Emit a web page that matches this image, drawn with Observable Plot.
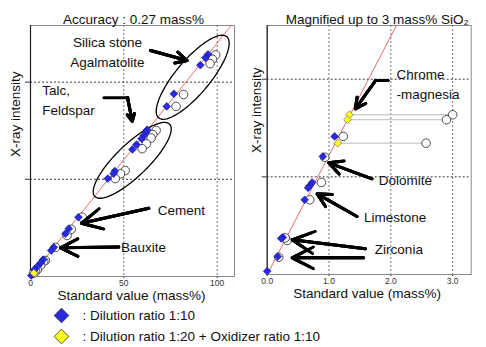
<!DOCTYPE html>
<html><head><meta charset="utf-8">
<script src="https://cdn.jsdelivr.net/npm/d3@7"></script>
<script src="https://cdn.jsdelivr.net/npm/@observablehq/plot@0.6"></script>
<style>
body{margin:0;background:#fff;font-family:"Liberation Sans",Arial,sans-serif;}
#wrap{position:relative;width:486px;height:347px;overflow:hidden;background:#fff;}
#wrap svg{position:absolute;display:block;}
</style></head><body><div id="wrap"></div>
<script>
// ---------- Left panel data (standard value mass%, X-ray intensity) ----------
const leftDiaStd = [95.1, 93.7, 91.0, 76.8, 73.0, 62.5, 61.8, 60.7, 59.5, 56.8, 54.6, 45.2, 44.5, 41.4, 25.7, 20.5, 18.7, 12.5, 11.1, 6.8, 5.4, 3.6, 2.1, 0.4];
const leftDiaInt = [91.4, 90.0, 87.0, 75.2, 70.0, 60.4, 59.4, 58.0, 56.7, 54.3, 52.3, 43.4, 42.3, 40.3, 24.4, 19.7, 17.6, 12.0, 10.7, 6.9, 5.5, 4.1, 2.8, 0.4];
const leftYelStd = [1.8];
const leftYelInt = [1.4];
const leftCirStd = [99.2, 97.5, 96.2, 82.0, 78.0, 67.3, 65.5, 64.6, 62.1, 59.8, 50.7, 48.2, 45.4, 27.7, 21.8, 19.6, 13.4, 8.0, 7.1, 5.4, 3.6, 2.7, 1.8];
const leftCirInt = [91.2, 89.4, 87.6, 74.9, 70.0, 60.1, 58.4, 57.0, 54.6, 52.6, 43.6, 42.3, 40.3, 24.4, 19.4, 16.9, 12.0, 6.6, 6.3, 4.6, 2.8, 2.2, 1.4];
const leftLineStd = [0, 107.5];
const leftLineInt = [0, 103.3];
const leftXTicks = [0, 50, 100];
const leftYGrid = [40, 80];

// ---------- Right panel data ----------
const rightDiaStd = [1.09, 0.90, 0.727, 0.688, 0.662, 0.607, 0.252, 0.226, 0.171, 0.0];
const rightDiaInt = [1.414, 1.209, 0.943, 0.909, 0.888, 0.765, 0.381, 0.369, 0.184, 0.034];
const rightYelStd = [1.33, 1.30, 1.14];
const rightYelInt = [1.636, 1.585, 1.345];
const rightYelCirStd = [3.0, 2.9, 2.57];
const rightCirStd = [1.23, 0.93, 0.877, 0.688, 0.323, 0.29, 0.187];
const rightCirInt = [1.414, 1.20, 0.943, 0.765, 0.348, 0.375, 0.177];
const rightLineStd = [0, 2.09];
const rightLineInt = [0, 2.55];
const rightXTicks = [0, 1, 2, 3];
const rightYGrid = [1, 2];

// ---------- Texts ----------
const leftTitle = "Accuracy : 0.27 mass%";
const rightTitle = "Magnified up to 3 mass% SiO\u2082";
const xLabel = "Standard value (mass%)";
const yLabel = "X-ray intensity";
const legendLabels = [": Dilution ratio 1:10", ": Dilution ratio 1:20 + Oxidizer ratio 1:10"];
const legendColors = ["#2a2ae0", "#ffff20"];

const leftNotes = [
  {text: "Silica stone\nAgalmatolite", x: 41.2, y: 93.1, anchor: "middle", lh: 1.53},
  {text: "Talc,\nFeldspar", x: 6.3, y: 73.1, anchor: "start", lh: 1.48},
  {text: "Cement", x: 80.8, y: 27.2, anchor: "middle", lh: 1},
  {text: "Bauxite", x: 60.6, y: 11.8, anchor: "middle", lh: 1}
];
const leftArrows = [
  {x1: 64.3, y1: 93.0, x2: 83.9, y2: 88.9},
  {x1: 52.0, y1: 73.6, x2: 54.5, y2: 63.9},
  {x1: 63.4, y1: 28.1, x2: 27.3, y2: 21.9},
  {x1: 47.3, y1: 12.1, x2: 16.1, y2: 11.8}
];
const leftBars = [{x1: 39.3, y1: 73.6, x2: 52.2, y2: 73.6}];

const rightNotes = [
  {text: "Chrome\n-magnesia", x: 2.09, y: 1.969, anchor: "start", lh: 1.48},
  {text: "Dolomite", x: 2.234, y: 0.963, anchor: "middle", lh: 1},
  {text: "Limestone", x: 2.07, y: 0.587, anchor: "middle", lh: 1},
  {text: "Zirconia", x: 2.13, y: 0.253, anchor: "middle", lh: 1}
];
const rightArrows = [
  {x1: 1.755, y1: 1.987, x2: 1.426, y2: 1.697},
  {x1: 1.696, y1: 0.98, x2: 0.995, y2: 1.144},
  {x1: 1.454, y1: 0.594, x2: 0.808, y2: 0.826},
  {x1: 1.588, y1: 0.263, x2: 0.404, y2: 0.355},
  {x1: 1.56, y1: 0.171, x2: 0.404, y2: 0.171}
];
const rightBars = [{x1: 1.96, y1: 1.987, x2: 1.75, y2: 1.987}];

// ellipse annotations (centre in data units, semi-axes in px, angle in degrees)
const ellipseSpecs = [
  {id: "a", cx: 86.9, cy: 82.0, a: 53, b: 17, ang: 50},
  {id: "b", cx: 54.5, cy: 47.8, a: 52, b: 16, ang: 44}
];

const FONT = "Liberation Sans, Arial, sans-serif";
const wrap = document.getElementById("wrap");

const pts = (xs, ys) => xs.map((x, i) => ({x, y: ys[i]}));

function arrowMarks(data) {
  return [14, 10, 6].map(h => Plot.arrow(data, {
    x1: "x1", y1: "y1", x2: "x2", y2: "y2",
    stroke: "black", strokeWidth: 3, headLength: h, headAngle: 54
  }));
}
function noteMarks(notes) {
  return notes.map(n => Plot.text([n], {
    x: "x", y: "y", text: "text", textAnchor: n.anchor, lineHeight: n.lh,
    fontSize: 13.5, fill: "#111", fontFamily: FONT
  }));
}

// ----- left plot -----
const L = {w: 245, h: 300, ml: 30, mr: 11, mt: 25, mb: 24, xMax: 109.3, yMax: 103.3};
const kx = (L.w - L.ml - L.mr) / L.xMax, ky = (L.h - L.mt - L.mb) / L.yMax;
function ellipsePoints(s) {
  const out = [], t = s.ang * Math.PI / 180;
  for (let i = 0; i < 90; i++) {
    const u = 2 * Math.PI * i / 90;
    const px = s.a * Math.cos(u) * Math.cos(t) - s.b * Math.sin(u) * Math.sin(t);
    const py = s.a * Math.cos(u) * Math.sin(t) + s.b * Math.sin(u) * Math.cos(t);
    out.push({id: s.id, x: s.cx + px / kx, y: s.cy + py / ky});
  }
  return out;
}
const ellipseData = ellipseSpecs.flatMap(ellipsePoints);

const left = Plot.plot({
  width: L.w, height: L.h, marginLeft: L.ml, marginRight: L.mr, marginTop: L.mt, marginBottom: L.mb,
  style: {fontFamily: FONT, fontSize: "8.5px", color: "#333", background: "transparent", overflow: "visible"},
  x: {domain: [0, L.xMax], ticks: leftXTicks, tickSize: 2, tickPadding: 1, label: null},
  y: {domain: [0, L.yMax], ticks: leftYGrid, tickSize: 5, tickFormat: () => "", label: null},
  marks: [
    Plot.ruleX(leftXTicks.slice(1), {stroke: "#555", strokeDasharray: "2,2", strokeWidth: 0.8}),
    Plot.ruleY(leftYGrid, {stroke: "#222", strokeDasharray: "2,2", strokeWidth: 0.9}),
    Plot.frame({stroke: "#888"}),
    Plot.ruleX([0], {stroke: "#222", strokeWidth: 1.2}),
    Plot.line(pts(leftLineStd, leftLineInt), {x: "x", y: "y", stroke: "#e04848", strokeWidth: 0.8, clip: true}),
    Plot.line(ellipseData, {x: "x", y: "y", z: "id", stroke: "black", strokeWidth: 1.3, curve: "linear-closed"}),
    Plot.dot(pts(leftCirStd, leftCirInt), {x: "x", y: "y", r: 4.3, fill: "white", stroke: "#222", strokeWidth: 0.8}),
    Plot.dot(pts(leftDiaStd, leftDiaInt), {x: "x", y: "y", r: 3.5, symbol: "diamond2", fill: legendColors[0], stroke: "#10108a", strokeWidth: 0.6}),
    Plot.dot(pts(leftYelStd, leftYelInt), {x: "x", y: "y", r: 3.5, symbol: "diamond2", fill: legendColors[1], stroke: "#555", strokeWidth: 0.6}),
    ...leftBars.map(b => Plot.line([{x: b.x1, y: b.y1}, {x: b.x2, y: b.y2}], {x: "x", y: "y", stroke: "black", strokeWidth: 3})),
    ...arrowMarks(leftArrows),
    ...noteMarks(leftNotes),
    Plot.text([leftTitle], {frameAnchor: "top", dy: -11, dx: 1, text: d => d, fontSize: 13.5, fill: "#111"}),
    Plot.text([xLabel], {frameAnchor: "bottom", dy: 23, dx: -1, text: d => d, fontSize: 13.5, fill: "#111"}),
    Plot.text([yLabel], {frameAnchor: "left", dx: -15, dy: 6, rotate: -90, text: d => d, fontSize: 13.5, fill: "#111"})
  ]
});
left.style.left = "0px"; left.style.top = "0px";
wrap.appendChild(left);

// ----- right plot -----
const R = {w: 241, h: 300, ml: 21.7, mr: 15.3, mt: 25, mb: 26, xMax: 3.3, yMax: 2.55};
const right = Plot.plot({
  width: R.w, height: R.h, marginLeft: R.ml, marginRight: R.mr, marginTop: R.mt, marginBottom: R.mb,
  style: {fontFamily: FONT, fontSize: "8.5px", color: "#333", background: "transparent", overflow: "visible"},
  x: {domain: [0, R.xMax], ticks: rightXTicks, tickSize: 2, tickPadding: 1, tickFormat: d3.format(".1f"), label: null},
  y: {domain: [0, R.yMax], ticks: rightYGrid, tickSize: 5, tickFormat: () => "", label: null},
  marks: [
    Plot.ruleX(rightXTicks.slice(1), {stroke: "#555", strokeDasharray: "2,2", strokeWidth: 0.8}),
    Plot.ruleY(rightYGrid, {stroke: "#222", strokeDasharray: "2,2", strokeWidth: 0.9}),
    Plot.frame({stroke: "#888"}),
    Plot.ruleX([0], {stroke: "#222", strokeWidth: 1.2}),
    Plot.line(pts(rightLineStd, rightLineInt), {x: "x", y: "y", stroke: "#e04848", strokeWidth: 0.8, clip: true}),
    Plot.link(rightYelStd.map((x, i) => ({x1: x, x2: rightYelCirStd[i], y: rightYelInt[i]})),
      {x1: "x1", x2: "x2", y1: "y", y2: "y", stroke: "#bbb", strokeWidth: 1}),
    Plot.dot(pts(rightYelCirStd, rightYelInt), {x: "x", y: "y", r: 4.3, fill: "white", stroke: "#222", strokeWidth: 0.8}),
    Plot.dot(pts(rightCirStd, rightCirInt), {x: "x", y: "y", r: 4.3, fill: "white", stroke: "#222", strokeWidth: 0.8}),
    Plot.dot(pts(rightDiaStd, rightDiaInt), {x: "x", y: "y", r: 3.5, symbol: "diamond2", fill: legendColors[0], stroke: "#10108a", strokeWidth: 0.6}),
    Plot.dot(pts(rightYelStd, rightYelInt), {x: "x", y: "y", r: 3.5, symbol: "diamond2", fill: legendColors[1], stroke: "#555", strokeWidth: 0.6}),
    ...rightBars.map(b => Plot.line([{x: b.x1, y: b.y1}, {x: b.x2, y: b.y2}], {x: "x", y: "y", stroke: "black", strokeWidth: 3})),
    ...arrowMarks(rightArrows),
    ...noteMarks(rightNotes),
    Plot.text([rightTitle], {frameAnchor: "top", dy: -11, dx: 8, text: d => d, fontSize: 13.5, fill: "#111"}),
    Plot.text([xLabel], {frameAnchor: "bottom", dy: 23, dx: -2, text: d => d, fontSize: 13.5, fill: "#111"}),
    Plot.text([yLabel], {frameAnchor: "left", dx: -11, dy: 3, rotate: -90, text: d => d, fontSize: 13.5, fill: "#111"})
  ]
});
right.style.left = "245px"; right.style.top = "0px";
wrap.appendChild(right);

// ----- legend -----
const legend = Plot.plot({
  width: 486, height: 47, margin: 0,
  style: {fontFamily: FONT, background: "transparent", overflow: "visible"},
  x: {domain: [0, 486], range: [0, 486], axis: null},
  y: {type: "point", domain: legendLabels, range: [15, 36], padding: 0, axis: null},
  marks: [
    Plot.dot(legendLabels, {x: () => 61, y: d => d, r: 6.6, symbol: "diamond2", fill: (d, i) => legendColors[i], stroke: "#222", strokeWidth: 0.8}),
    Plot.text(legendLabels, {x: () => 82, y: d => d, text: d => d, textAnchor: "start", fontSize: 13.5, fill: "#111"})
  ]
});
legend.style.left = "0px"; legend.style.top = "300px";
wrap.appendChild(legend);
</script>
</body></html>
